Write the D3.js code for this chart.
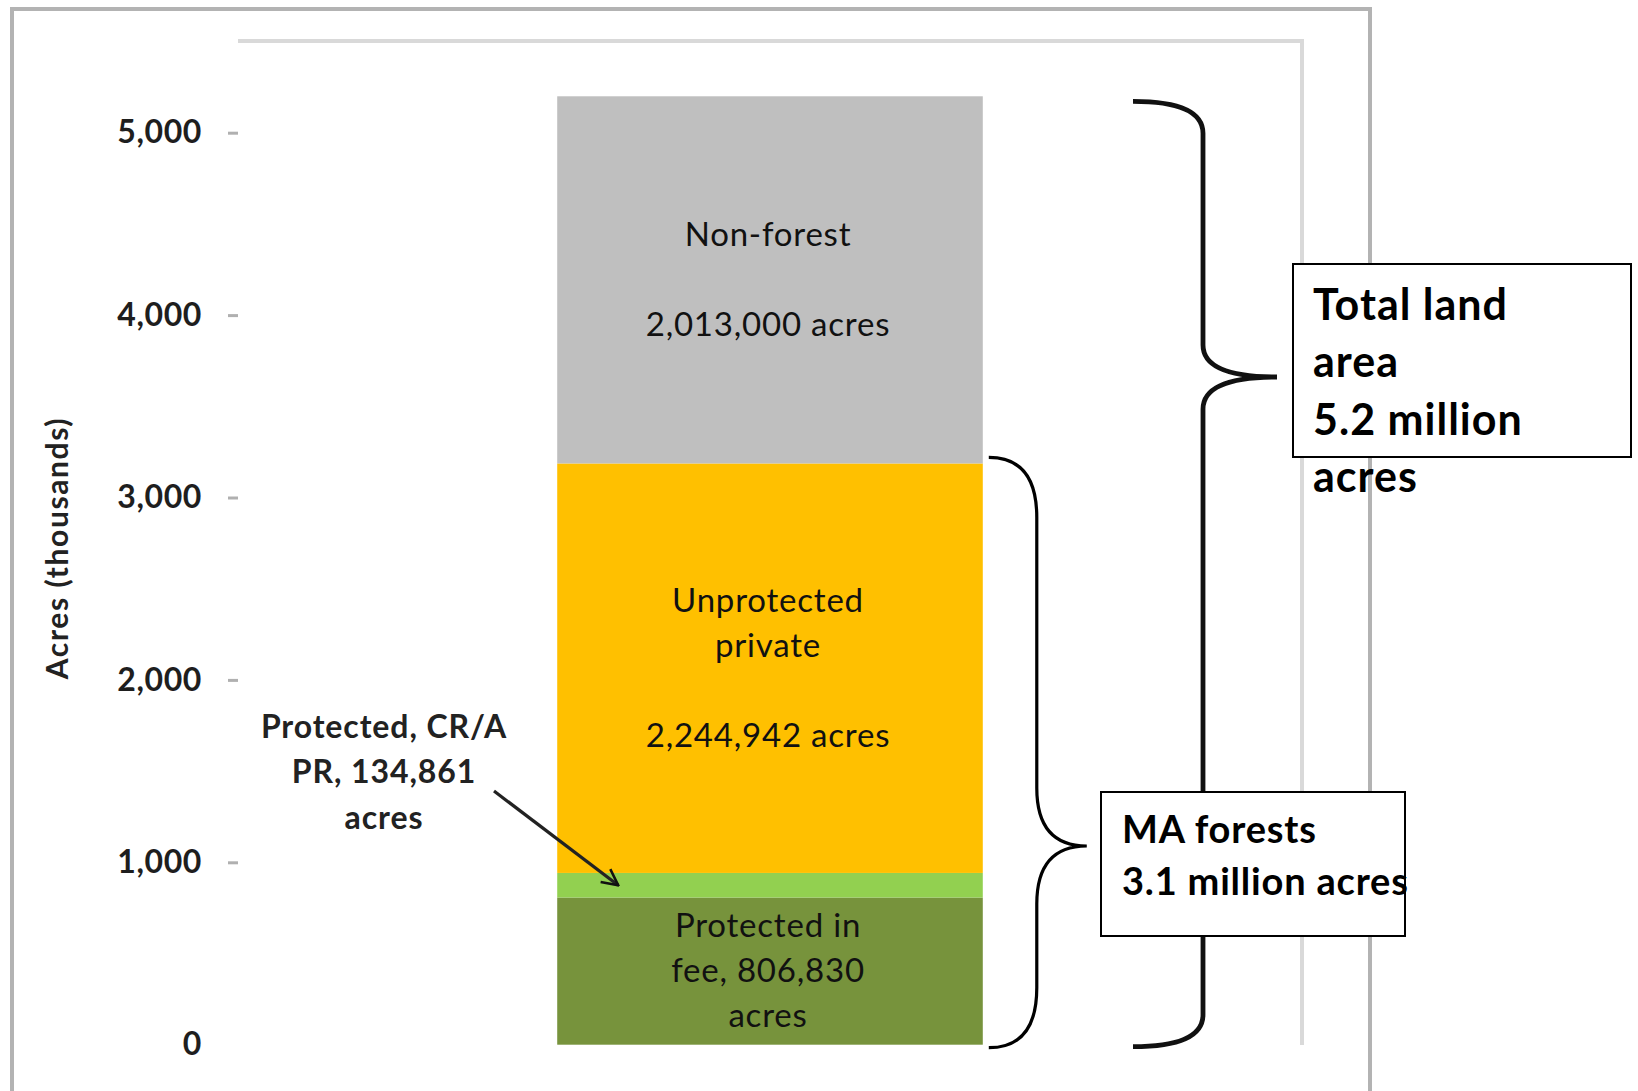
<!DOCTYPE html>
<html>
<head>
<meta charset="utf-8">
<script src="https://cdn.jsdelivr.net/npm/d3@7"></script>
<style>
  html, body { margin: 0; padding: 0; background: #fff; }
  svg { display: block; font-family: Lato, "Open Sans", sans-serif; }
</style>
</head>
<body>
<svg id="chart" width="1638" height="1091"></svg>
<script>
// ---- data ----
const categories = ["Massachusetts"];
const segmentNames = ["Protected in fee", "Protected, CR/APR", "Unprotected private", "Non-forest"];
const segmentValues = [806.830, 134.861, 2244.942, 2013.000]; // thousands of acres
const segmentColors = ["#77933c", "#92d050", "#ffc000", "#bfbfbf"];
const segmentLabels = [
  ["Protected in", "fee, 806,830", "acres"],
  [],
  ["Unprotected", "private", "", "2,244,942 acres"],
  ["Non-forest", "", "2,013,000 acres"]
];
const tickValues = [0, 1000, 2000, 3000, 4000, 5000];
const tickLabels = ["0", "1,000", "2,000", "3,000", "4,000", "5,000"];
const yAxisTitle = "Acres (thousands)";
const calloutLines = ["Protected, CR/A", "PR, 134,861", "acres"];
const totalBoxLines = ["Total land", "area", "5.2 million", "acres"];
const forestBoxLines = ["MA forests", "3.1 million acres"];

// ---- layout ----
const svg = d3.select("#chart");
const plot = { left: 238, right: 1302, top: 41, bottom: 1045 };

const y = d3.scaleLinear().domain([0, 5000]).range([1044.7, 132.7]);
const x = d3.scaleBand().domain(categories).range([plot.left, plot.right]).padding(0.4286);

// outer chart border
svg.append("rect")
  .attr("x", 12).attr("y", 9).attr("width", 1358).attr("height", 1200)
  .attr("fill", "none").attr("stroke", "#b3b3b3").attr("stroke-width", 4);

// plot area frame (top and right edges)
svg.append("path")
  .attr("d", `M${plot.left},${plot.top} H${plot.right} V${plot.bottom}`)
  .attr("fill", "none").attr("stroke", "#d9d9d9").attr("stroke-width", 4);

// y axis
const yAxis = d3.axisLeft(y)
  .tickValues(tickValues)
  .tickFormat((d, i) => tickLabels[i])
  .tickSize(10).tickPadding(26);
const gAxis = svg.append("g").attr("transform", `translate(${plot.left},0)`).call(yAxis);
gAxis.select(".domain").remove();
gAxis.selectAll(".tick line").attr("stroke", "#b0b0b0").attr("stroke-width", 3)
  .filter(d => d === 0).remove();
gAxis.selectAll(".tick text")
  .attr("font-family", "Lato, sans-serif").attr("font-weight", "bold")
  .attr("font-size", 32).attr("letter-spacing", 0.6).attr("fill", "#1e1e1e");

svg.append("text")
  .attr("transform", `translate(56,548) rotate(-90)`)
  .attr("text-anchor", "middle").attr("dominant-baseline", "central")
  .attr("font-weight", "bold").attr("font-size", 30).attr("fill", "#222")
  .attr("letter-spacing", 1.6)
  .text(yAxisTitle);

// stacked segments
const stackData = [];
let acc = 0;
segmentValues.forEach((v, i) => {
  stackData.push({ name: segmentNames[i], y0: acc, y1: acc + v, color: segmentColors[i], lines: segmentLabels[i] });
  acc += v;
});

const bx = x(categories[0]);
const bw = x.bandwidth();

svg.append("g").selectAll("rect").data(stackData).join("rect")
  .attr("x", bx).attr("width", bw)
  .attr("y", d => y(d.y1)).attr("height", d => y(d.y0) - y(d.y1))
  .attr("fill", d => d.color);

// segment labels
const lineH = 45;
stackData.forEach(d => {
  if (!d.lines.length) return;
  const mid = (y(d.y0) + y(d.y1)) / 2;
  const n = d.lines.length;
  d.lines.forEach((t, j) => {
    if (!t) return;
    svg.append("text")
      .attr("x", bx + bw / 2 - 2)
      .attr("y", mid - 2 + (j - (n - 1) / 2) * lineH)
      .attr("text-anchor", "middle").attr("dominant-baseline", "central")
      .attr("font-size", 33).attr("letter-spacing", 0.8).attr("fill", "#111")
      .text(t);
  });
});

// callout for small segment
const calloutX = 384;
calloutLines.forEach((t, j) => {
  svg.append("text")
    .attr("x", calloutX).attr("y", 725 + j * 45.5)
    .attr("text-anchor", "middle").attr("dominant-baseline", "central")
    .attr("font-weight", "bold").attr("font-size", 32).attr("letter-spacing", 0.9).attr("fill", "#222")
    .text(t);
});

svg.append("defs").append("marker")
  .attr("id", "arrow").attr("viewBox", "0 0 12 12")
  .attr("refX", 11).attr("refY", 6)
  .attr("markerWidth", 6).attr("markerHeight", 6)
  .attr("markerUnits", "strokeWidth")
  .attr("orient", "auto")
  .append("path").attr("d", "M1,1 L11,6 L1,11").attr("fill", "none")
  .attr("stroke", "#111").attr("stroke-width", 1.6);

const cr = stackData[1];
svg.append("line")
  .attr("x1", 494).attr("y1", 791)
  .attr("x2", bx + 61).attr("y2", (y(cr.y0) + y(cr.y1)) / 2)
  .attr("stroke", "#222").attr("stroke-width", 3.2)
  .attr("marker-end", "url(#arrow)");

// braces
function brace(x0, x1, x2, top, tip, bottom, rEnd, rMid) {
  return `M${x0},${top} Q${x1},${top} ${x1},${top + rEnd}` +
         ` L${x1},${tip - rMid} Q${x1},${tip} ${x2},${tip}` +
         ` Q${x1},${tip} ${x1},${tip + rMid}` +
         ` L${x1},${bottom - rEnd} Q${x1},${bottom} ${x0},${bottom}`;
}

const forestTop = y(stackData[2].y1);
const forestBottom = y(0);
svg.append("path")
  .attr("d", brace(bx + bw + 6, bx + bw + 54, bx + bw + 104, forestTop - 6, 846, forestBottom + 3, 60, 58))
  .attr("fill", "none").attr("stroke", "#000").attr("stroke-width", 3.2);

const totalTop = y(stackData[3].y1);
svg.append("path")
  .attr("d", brace(1133, 1203, 1277, totalTop + 5, 377, forestBottom + 2, 32, 32))
  .attr("fill", "none").attr("stroke", "#111").attr("stroke-width", 4.8);

// boxes
svg.append("rect").attr("x", 1293).attr("y", 264).attr("width", 338).attr("height", 193)
  .attr("fill", "#fff").attr("stroke", "#000").attr("stroke-width", 2);
totalBoxLines.forEach((t, j) => {
  svg.append("text")
    .attr("x", 1313).attr("y", 320 + j * 57.3)
    .attr("font-weight", "bold").attr("font-size", 43).attr("letter-spacing", 1)
    .attr("fill", "#000")
    .text(t);
});

svg.append("rect").attr("x", 1101).attr("y", 792).attr("width", 304).attr("height", 144)
  .attr("fill", "#fff").attr("stroke", "#000").attr("stroke-width", 2);
forestBoxLines.forEach((t, j) => {
  svg.append("text")
    .attr("x", 1122).attr("y", 843 + j * 52)
    .attr("font-weight", "bold").attr("font-size", 38).attr("letter-spacing", 0.8)
    .attr("fill", "#000")
    .text(t);
});
</script>
</body>
</html>
